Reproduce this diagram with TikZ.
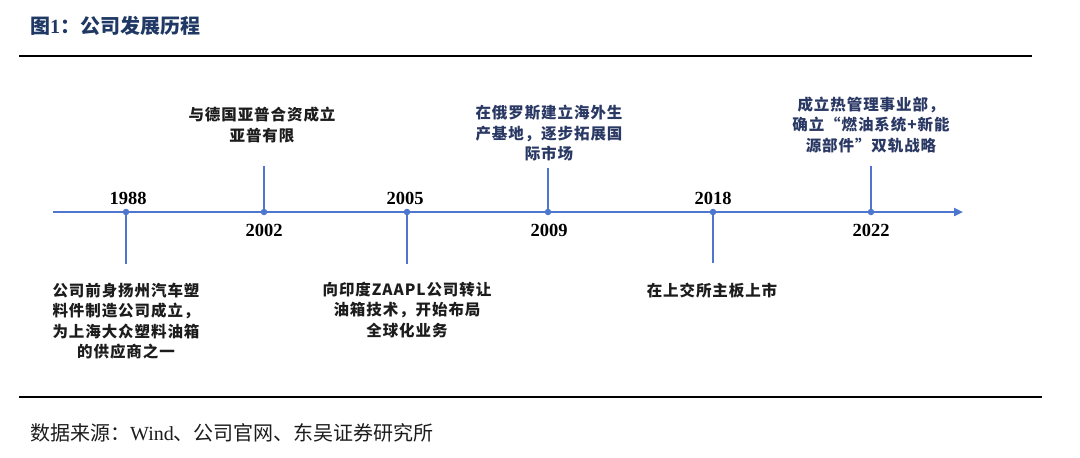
\documentclass[tikz,border=0pt]{standalone}
\usepackage{fontspec}
\setmainfont{Liberation Serif}
\newfontfamily\cjk[LetterSpace=6]{Noto Sans CJK SC}
\newfontfamily\cjkplain{Noto Sans CJK SC}
\usetikzlibrary{arrows.meta}
\definecolor{axisblue}{RGB}{78,118,206}
\definecolor{titlenavy}{RGB}{31,56,100}
\definecolor{textnavy}{RGB}{42,56,100}
\definecolor{textblack}{RGB}{28,28,28}
\begin{document}
\begin{tikzpicture}[x=1pt,y=-1pt,
  dot/.style={circle,fill=axisblue,inner sep=0pt,minimum size=6.5pt},
  stem/.style={draw=axisblue,line width=2pt},
  axisline/.style={draw=axisblue,line width=2.4pt,-{Triangle[length=9pt,width=8pt]}},
  year/.style={font=\fontsize{18.5}{20}\selectfont\bfseries,text=black,inner sep=0pt},
  event/.style={font=\cjk\bfseries\fontsize{15.5}{20.5}\selectfont,align=center,inner sep=0pt,text=textblack},
  eventblue/.style={event,text=textnavy},
  rule/.style={draw=black,line width=2pt}]
\path[use as bounding box] (0,0) rectangle (1080,458);
% title
\node[anchor=west,inner sep=0pt,text=titlenavy,font=\cjkplain\bfseries\fontsize{20}{22}\selectfont] (title) at (30,26) {图{\rmfamily 1}：公司发展历程};
\coordinate (r1l) at (19,56);
\coordinate (r1r) at (1032,56);
\draw[rule] (r1l) -- (r1r);
% axis
\coordinate (axL) at (53,212);
\coordinate (axR) at (963,212);
\draw[axisline] (axL) -- (axR);
% dots
\node[dot] (d1988) at (126,212) {};
\node[dot] (d2002) at (264,212) {};
\node[dot] (d2005) at (407,212) {};
\node[dot] (d2009) at (548,212) {};
\node[dot] (d2018) at (713,212) {};
\node[dot] (d2022) at (871,212) {};
% stem ends
\coordinate (e1988) at (126,264);
\coordinate (e2002) at (264,166);
\coordinate (e2005) at (407,264);
\coordinate (e2009) at (548,168);
\coordinate (e2018) at (713,263);
\coordinate (e2022) at (871,166);
\draw[stem] (d1988.center) -- (e1988);
\draw[stem] (d2002.center) -- (e2002);
\draw[stem] (d2005.center) -- (e2005);
\draw[stem] (d2009.center) -- (e2009);
\draw[stem] (d2018.center) -- (e2018);
\draw[stem] (d2022.center) -- (e2022);
% years
\node[year] (y1988) at (128,198) {1988};
\node[year] (y2002) at (264,230) {2002};
\node[year] (y2005) at (405,198) {2005};
\node[year] (y2009) at (549,230) {2009};
\node[year] (y2018) at (713,198) {2018};
\node[year] (y2022) at (871,230) {2022};
% events
\node[event] (t1988) at (126,321) {公司前身扬州汽车塑\\料件制造公司成立，\\为上海大众塑料油箱\\的供应商之一};
\node[event] (t2002) at (262,125) {与德国亚普合资成立\\亚普有限};
\node[event] (t2005) at (407,310) {向印度ZAAPL公司转让\\油箱技术，开始布局\\全球化业务};
\node[eventblue] (t2009) at (549,133) {在俄罗斯建立海外生\\产基地，逐步拓展国\\际市场};
\node[event] (t2018) at (712,291) {在上交所主板上市};
\node[eventblue] (t2022) at (871,125) {成立热管理事业部，\\确立“燃油系统+新能\\源部件”双轨战略};
% footer
\coordinate (r2l) at (19,397);
\coordinate (r2r) at (1042,397);
\draw[rule] (r2l) -- (r2r);
\node[anchor=west,inner sep=0pt,text=textblack,font=\cjkplain\fontsize{20}{22}\selectfont] (src) at (30,433) {数据来源：{\rmfamily Wind}、公司官网、东吴证券研究所};
\end{tikzpicture}
\end{document}
